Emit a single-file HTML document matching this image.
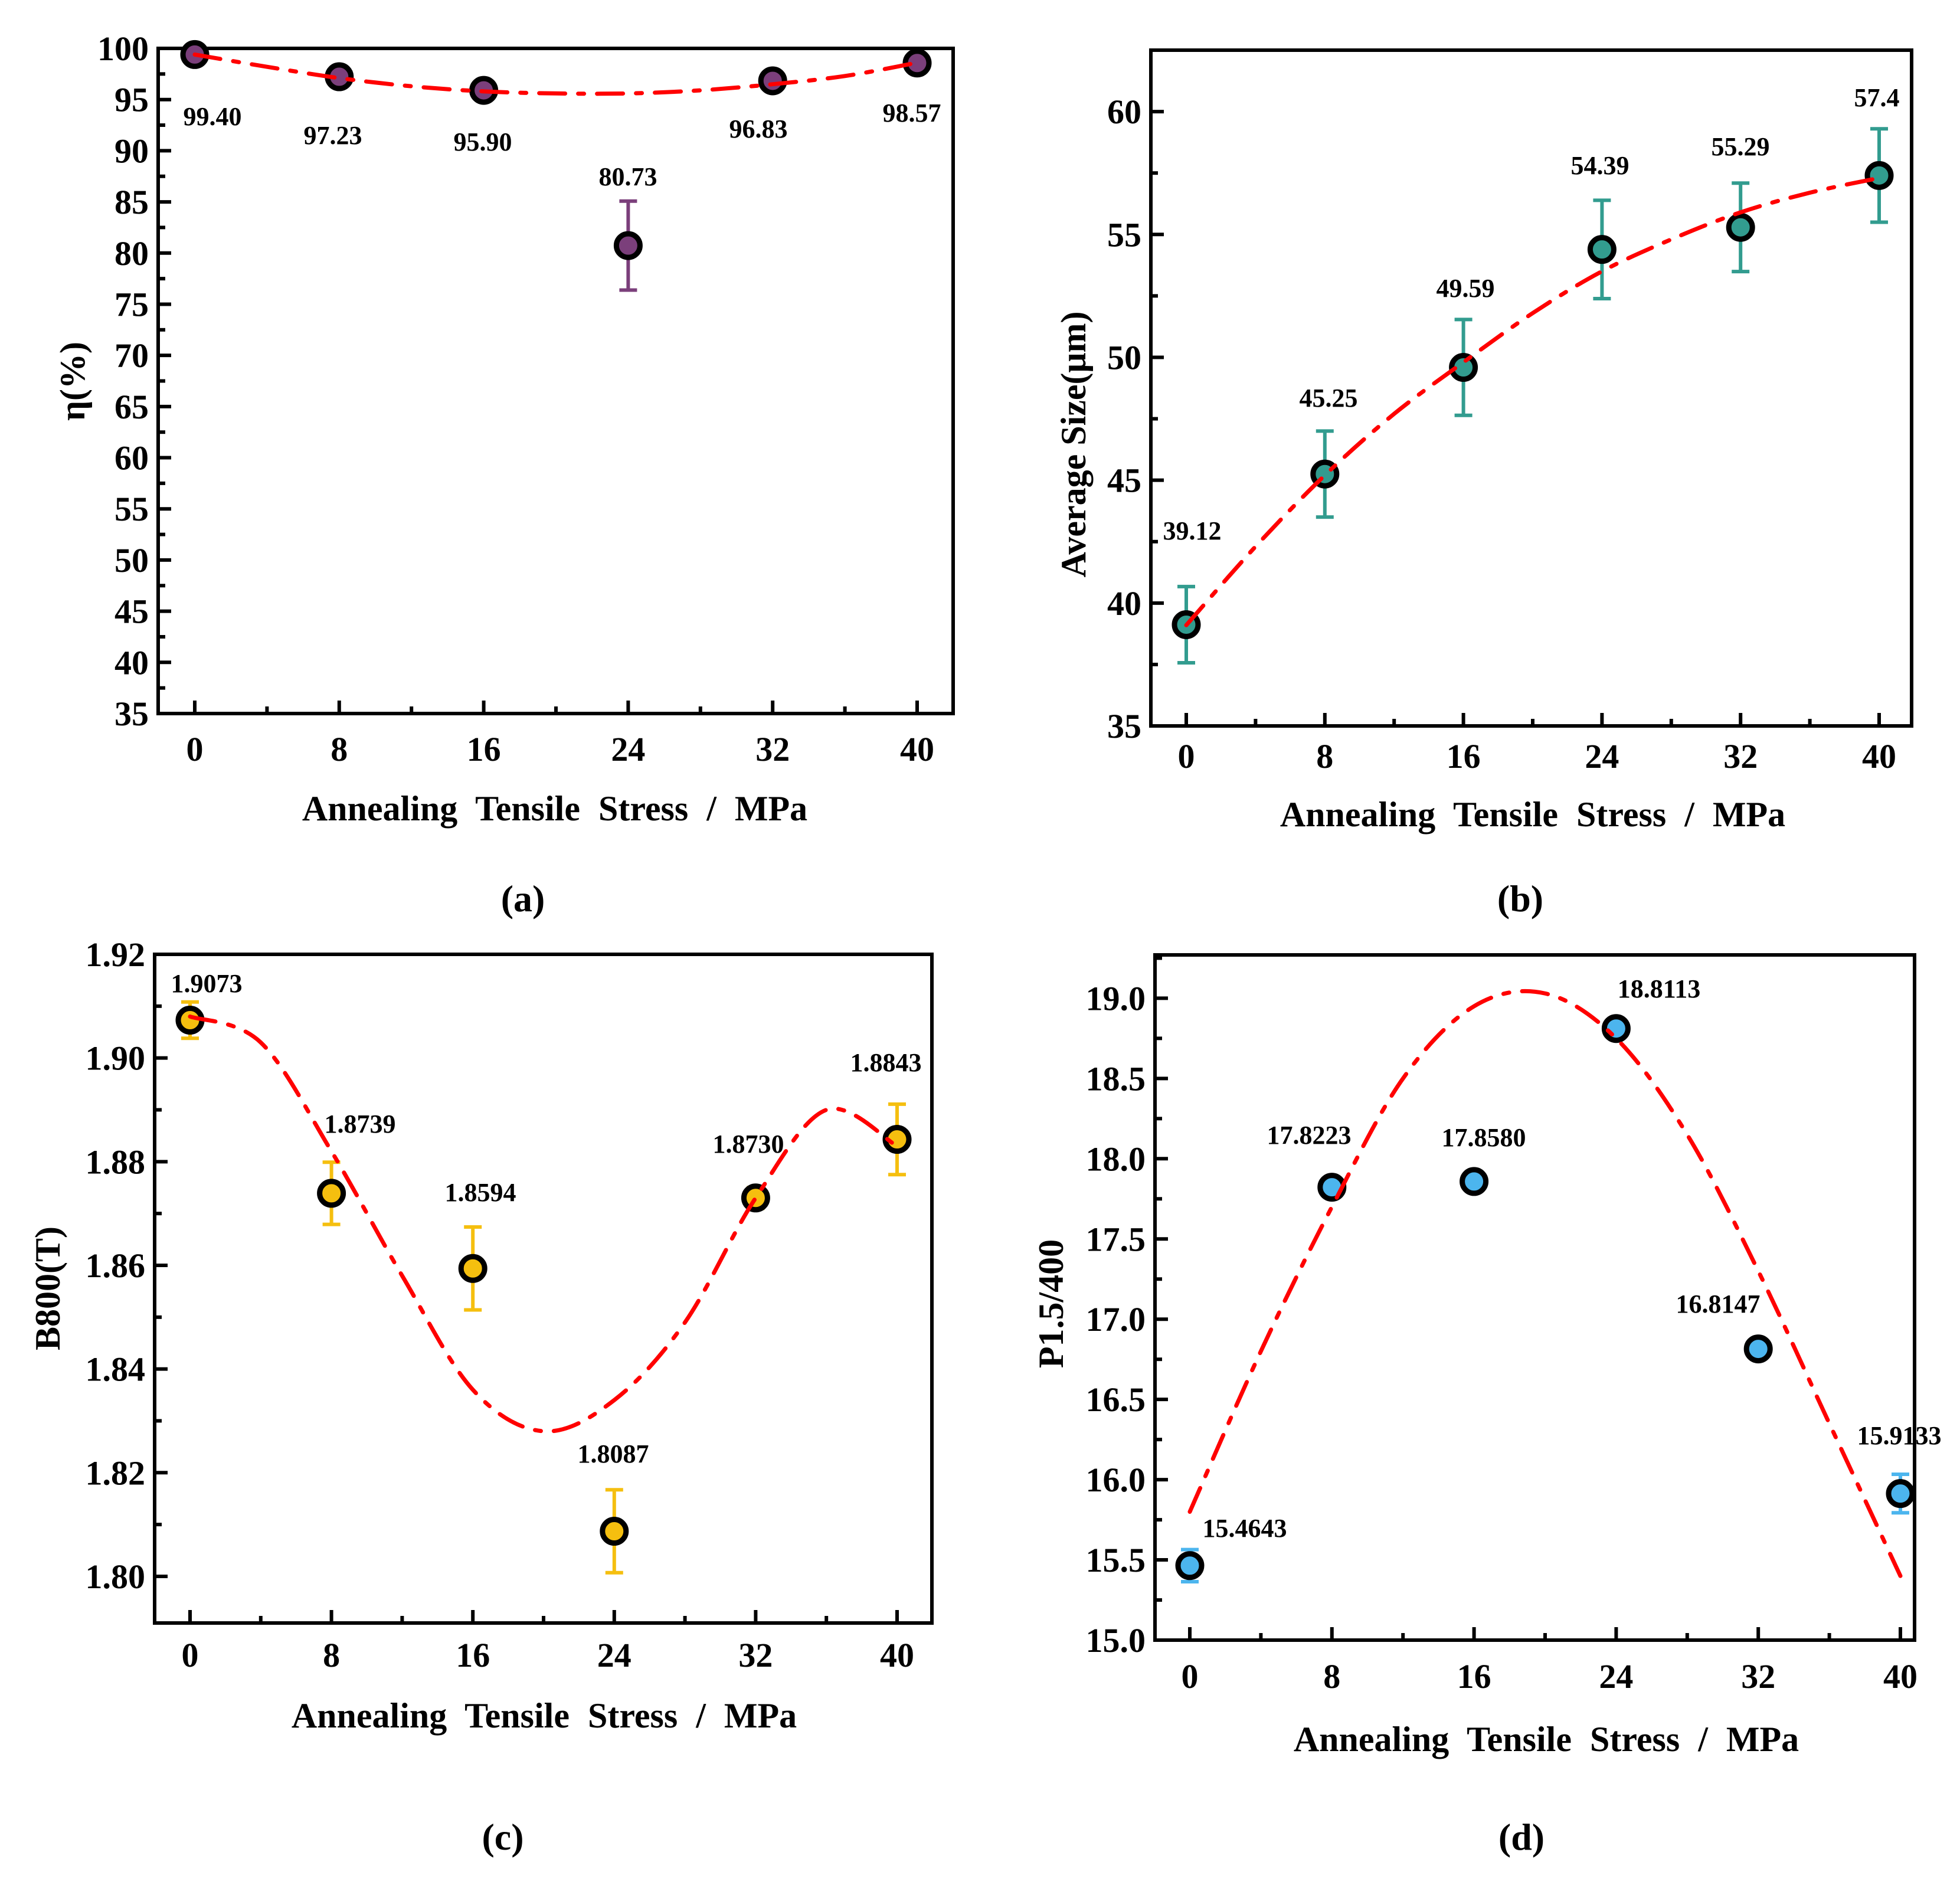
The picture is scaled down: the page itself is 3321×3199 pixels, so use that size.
<!DOCTYPE html>
<html><head><meta charset="utf-8">
<style>
html,body{margin:0;padding:0;background:#fff;}
svg{display:block;}
text{font-family:"Liberation Serif",serif;font-weight:bold;fill:#000;}
</style></head>
<body>
<svg id="fig" width="3321" height="3199" viewBox="0 0 3321 3199" xmlns="http://www.w3.org/2000/svg"></svg>
<script>
// shared categories
const stressLevels = [0, 8, 16, 24, 32, 40];
const xTickLabels = ["0","8","16","24","32","40"];
const fitX = [0,4,8,12,16,20,24,28,32,36,40];

// panel a
const etaValues = [99.40, 97.23, 95.90, 80.73, 96.83, 98.57];
const etaErrors = [0.3, 0.3, 0.3, 4.35, 0.3, 0.3];
const etaLabels = ["99.40","97.23","95.90","80.73","96.83","98.57"];
const etaFit = [99.4,98.2,97.1,96.3,95.8,95.6,95.6,95.9,96.5,97.3,98.6];
const etaTicks = [35,40,45,50,55,60,65,70,75,80,85,90,95,100];

// panel b
const sizeValues = [39.12, 45.25, 49.59, 54.39, 55.29, 57.4];
const sizeErrors = [1.55, 1.75, 1.95, 2.0, 1.8, 1.9];
const sizeLabels = ["39.12","45.25","49.59","54.39","55.29","57.4"];
const sizeFit = [39.1,42.3,45.2,47.7,49.8,51.8,53.5,54.8,55.9,56.7,57.3];
const sizeTicks = [35,40,45,50,55,60];

// panel c
const bValues = [1.9073, 1.8739, 1.8594, 1.8087, 1.8730, 1.8843];
const bErrors = [0.0035, 0.006, 0.008, 0.008, 0.002, 0.0068];
const bLabels = ["1.9073","1.8739","1.8594","1.8087","1.8730","1.8843"];
const bFit = [1.908,1.903,1.882,1.858,1.836,1.828,1.834,1.849,1.873,1.890,1.883];
const bTicks = [1.80,1.82,1.84,1.86,1.88,1.90,1.92];

// panel d
const pValues = [15.4643, 17.8223, 17.8580, 18.8113, 16.8147, 15.9133];
const pErrors = [0.1, 0.03, 0.04, 0.04, 0.04, 0.12];
const pLabels = ["15.4643","17.8223","17.8580","18.8113","16.8147","15.9133"];
const pFit = [15.8,16.8,17.7,18.5,18.95,19.03,18.75,18.15,17.3,16.35,15.4];
const pTicks = [15.0,15.5,16.0,16.5,17.0,17.5,18.0,18.5,19.0];

const NS = "http://www.w3.org/2000/svg";
const svg = document.getElementById('fig');
function mk(tag, attrs, parent){
  const e = document.createElementNS(NS, tag);
  for (const k in attrs) e.setAttribute(k, attrs[k]);
  (parent||svg).appendChild(e);
  return e;
}
function smoothPath(pts){
  let d = "M"+pts[0][0]+","+pts[0][1];
  for (let i=0;i<pts.length-1;i++){
    const p0=pts[Math.max(0,i-1)], p1=pts[i], p2=pts[i+1], p3=pts[Math.min(pts.length-1,i+2)];
    const c1x=p1[0]+(p2[0]-p0[0])/6, c1y=p1[1]+(p2[1]-p0[1])/6;
    const c2x=p2[0]-(p3[0]-p1[0])/6, c2y=p2[1]-(p3[1]-p1[1])/6;
    d += " C"+c1x+","+c1y+" "+c2x+","+c2y+" "+p2[0]+","+p2[1];
  }
  return d;
}

function panel(cfg){
  const g = mk('g', {});
  
  
  const xs = v => cfg.x0 + (v-0)/(40-0)*(cfg.x40-cfg.x0);
  const ys = v => cfg.B - (v-cfg.ymin)/(cfg.ymax-cfg.ymin)*(cfg.B-cfg.T);

  const fr = mk('rect', {x:cfg.L, y:cfg.T, width:cfg.R-cfg.L, height:cfg.B-cfg.T, fill:'none', stroke:'#000', 'stroke-width':6}, g);
  
  

  for (let v=0; v<=40; v+=4){
    const major = v%8===0;
    const t = mk('line', {x1:xs(v), x2:xs(v), y1:cfg.B, y2:cfg.B-(major?22:12), stroke:'#000','stroke-width':6}, g);
    
    
  }
  stressLevels.forEach((v,i)=>{
    const t = mk('text', {x:xs(v), y:cfg.xLabY+4, 'text-anchor':'middle','font-size':58}, g);
    t.textContent = xTickLabels[i];
    
    
  });
  const tk = cfg.ticks;
  const step = tk[1]-tk[0];
  tk.forEach((v,i)=>{
    const y = ys(v);
    const t = mk('line', {x1:cfg.L, x2:cfg.L+22, y1:y, y2:y, stroke:'#000','stroke-width':6}, g);
    
    
    const lb = mk('text', {x:cfg.L-16, y:y+20, 'text-anchor':'end','font-size':58}, g);
    lb.textContent = cfg.fmt(v);
    
    
    const mv = v+step/2;
    if (mv < cfg.ymax){
      const m = mk('line', {x1:cfg.L, x2:cfg.L+12, y1:ys(mv), y2:ys(mv), stroke:'#000','stroke-width':6}, g);
      
      
    }
    if (i===0 && v-step/2 > cfg.ymin){
      const m = mk('line', {x1:cfg.L, x2:cfg.L+12, y1:ys(v-step/2), y2:ys(v-step/2), stroke:'#000','stroke-width':6}, g);
      
      
    }
  });

  cfg.vals.forEach((v,i)=>{
    const x = xs(stressLevels[i]);
    const e = cfg.errs[i];
    const eb = mk('path', {d:"M"+x+","+ys(v-e)+" L"+x+","+ys(v+e)+" M"+(x-15)+","+ys(v-e)+" L"+(x+15)+","+ys(v-e)+" M"+(x-15)+","+ys(v+e)+" L"+(x+15)+","+ys(v+e), stroke:cfg.color,'stroke-width':6, fill:'none'}, g);
    
    
  });
  cfg.vals.forEach((v,i)=>{
    const x = xs(stressLevels[i]);
    const c = mk('circle', {cx:x, cy:ys(v), r:20, fill:cfg.color, stroke:'#000','stroke-width':9}, g);
    
    
  });
  const pts = fitX.map((fx,i)=>[xs(fx), ys(cfg.fit[i])]);
  const fp = mk('path', {d:smoothPath(pts), fill:'none', stroke:'#ff0000','stroke-width':7,'stroke-dasharray':'44 22 10 22','stroke-linecap':'round'}, g);
  
  
  cfg.vals.forEach((v,i)=>{
    const t = mk('text', {x:cfg.labPos[i][0], y:cfg.labPos[i][1]+15, 'text-anchor':'middle','font-size':44}, g);
    t.textContent = cfg.labels[i];
    
    
  });
  const xt = mk('text', {x:cfg.xTitle[0], y:cfg.xTitle[1]+20, 'text-anchor':'middle','font-size':60,'word-spacing':'16'}, g);
  xt.textContent = "Annealing Tensile Stress /  MPa";
  
  
  const yt = mk('text', {x:0, y:0, 'text-anchor':'middle','font-size':60, transform:"translate("+cfg.yTitle[0]+","+cfg.yTitle[1]+") rotate(-90) translate(0,20)"}, g);
  yt.textContent = cfg.yTitleText;
  
  
  const pl = mk('text', {x:cfg.panelLab[0], y:cfg.panelLab[1]+22, 'text-anchor':'middle','font-size':64}, g);
  pl.textContent = cfg.panelText;
  
  
}

panel({name:'panel-a', L:268,R:1615,T:82,B:1209,x0:330,x40:1554,ymin:35,ymax:100,
  ticks:etaTicks, fmt:v=>String(v), vals:etaValues, errs:etaErrors, fit:etaFit, labels:etaLabels,
  color:'#7b3f7b', xLabY:1285, xTitle:[940,1370], yTitle:[123,646], yTitleText:'η(%)',
  panelLab:[886,1522], panelText:'(a)',
  labPos:[[360,197],[564,229],[818,240],[1064,299],[1285,218],[1545,191]]});

panel({name:'panel-b', L:1950,R:3239,T:85,B:1230,x0:2010,x40:3184,ymin:35,ymax:62.5,
  ticks:sizeTicks, fmt:v=>String(v), vals:sizeValues, errs:sizeErrors, fit:sizeFit, labels:sizeLabels,
  color:'#329c8f', xLabY:1297, xTitle:[2597,1380], yTitle:[1819,753], yTitleText:'Average Size(μm)',
  panelLab:[2576,1522], panelText:'(b)',
  labPos:[[2020,899],[2251,674],[2483,488],[2711,280],[2949,248],[3180,165]]});

panel({name:'panel-c', L:262,R:1579,T:1617,B:2750,x0:322,x40:1520,ymin:1.791,ymax:1.92,
  ticks:bTicks, fmt:v=>v.toFixed(2), vals:bValues, errs:bErrors, fit:bFit, labels:bLabels,
  color:'#f5bf0f', xLabY:2820, xTitle:[922,2907], yTitle:[81,2183], yTitleText:'B800(T)',
  panelLab:[852,3112], panelText:'(c)',
  labPos:[[350,1666],[610,1904],[814,2020],[1039,2463],[1268,1938],[1501,1800]]});

panel({name:'panel-d', L:1957,R:3244,T:1618,B:2779,x0:2016,x40:3220,ymin:15.0,ymax:19.27,
  ticks:pTicks, fmt:v=>v.toFixed(1), vals:pValues, errs:pErrors, fit:pFit, labels:pLabels,
  color:'#4cb5ee', xLabY:2856, xTitle:[2620,2947], yTitle:[1781,2209], yTitleText:'P1.5/400',
  panelLab:[2578,3112], panelText:'(d)',
  labPos:[[2109,2589],[2218,1923],[2514,1927],[2811,1675],[2911,2209],[3218,2432]]});
</script>
</body></html>
